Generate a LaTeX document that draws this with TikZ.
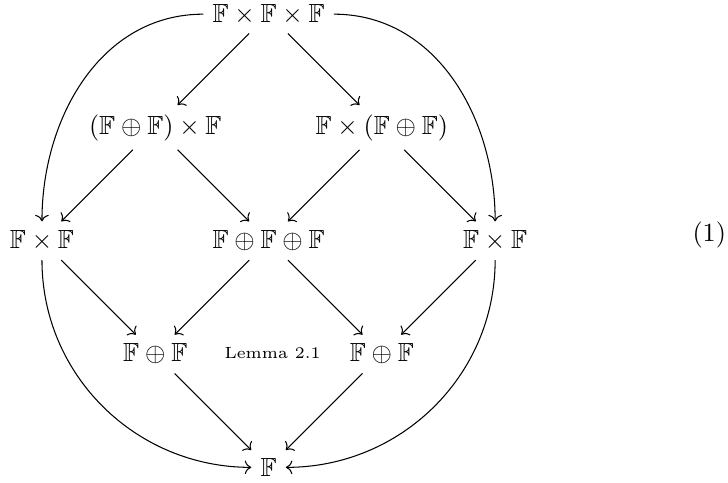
\documentclass[tikz,border=0pt]{standalone}
\usepackage{amsmath}
\usepackage{amssymb}
\usepackage{tikz}
\usetikzlibrary{arrows.meta}

\begin{document}
\begin{tikzpicture}[x=1.52cm, y=1.52cm, >={Computer Modern Rightarrow}]
\useasboundingbox (-0.563cm,-3.237cm) rectangle (9.204cm,3.23cm);
% the diamond of products and sums
\node (fff) at (2,2) {$\mathbb{F}\times\mathbb{F}\times\mathbb{F}$};
\node (sumL) at (1,1) {$(\mathbb{F}\oplus\mathbb{F})\times\mathbb{F}$};
\node (sumR) at (3,1) {$\mathbb{F}\times(\mathbb{F}\oplus\mathbb{F})$};
\node (prodL) at (0,0) {$\mathbb{F}\times\mathbb{F}$};
\node (triple) at (2,0) {$\mathbb{F}\oplus\mathbb{F}\oplus\mathbb{F}$};
\node (prodR) at (4,0) {$\mathbb{F}\times\mathbb{F}$};
\node (dsumL) at (1,-1) {$\mathbb{F}\oplus\mathbb{F}$};
\node (lemma) at (2.035,-0.99) {\fontsize{6.2}{7}\selectfont Lemma 2.1};
\node (dsumR) at (3,-1) {$\mathbb{F}\oplus\mathbb{F}$};
\node (base) at (2,-2) {$\mathbb{F}$};
\node (eqno) at (5.89,0.05) {(1)};
% straight maps
\draw[->] (fff) -- (sumL);
\draw[->] (fff) -- (sumR);
\draw[->] (sumL) -- (prodL);
\draw[->] (sumL) -- (triple);
\draw[->] (sumR) -- (triple);
\draw[->] (sumR) -- (prodR);
\draw[->] (prodL) -- (dsumL);
\draw[->] (triple) -- (dsumL);
\draw[->] (triple) -- (dsumR);
\draw[->] (prodR) -- (dsumR);
\draw[->] (dsumL) -- (base);
\draw[->] (dsumR) -- (base);
% outer curved maps
\draw[->] (fff) to[out=180, in=90] (prodL);
\draw[->] (fff) to[out=0, in=90] (prodR);
\draw[->] (prodL) to[out=-90, in=180] (base);
\draw[->] (prodR) to[out=-90, in=0] (base);
\end{tikzpicture}
\end{document}
